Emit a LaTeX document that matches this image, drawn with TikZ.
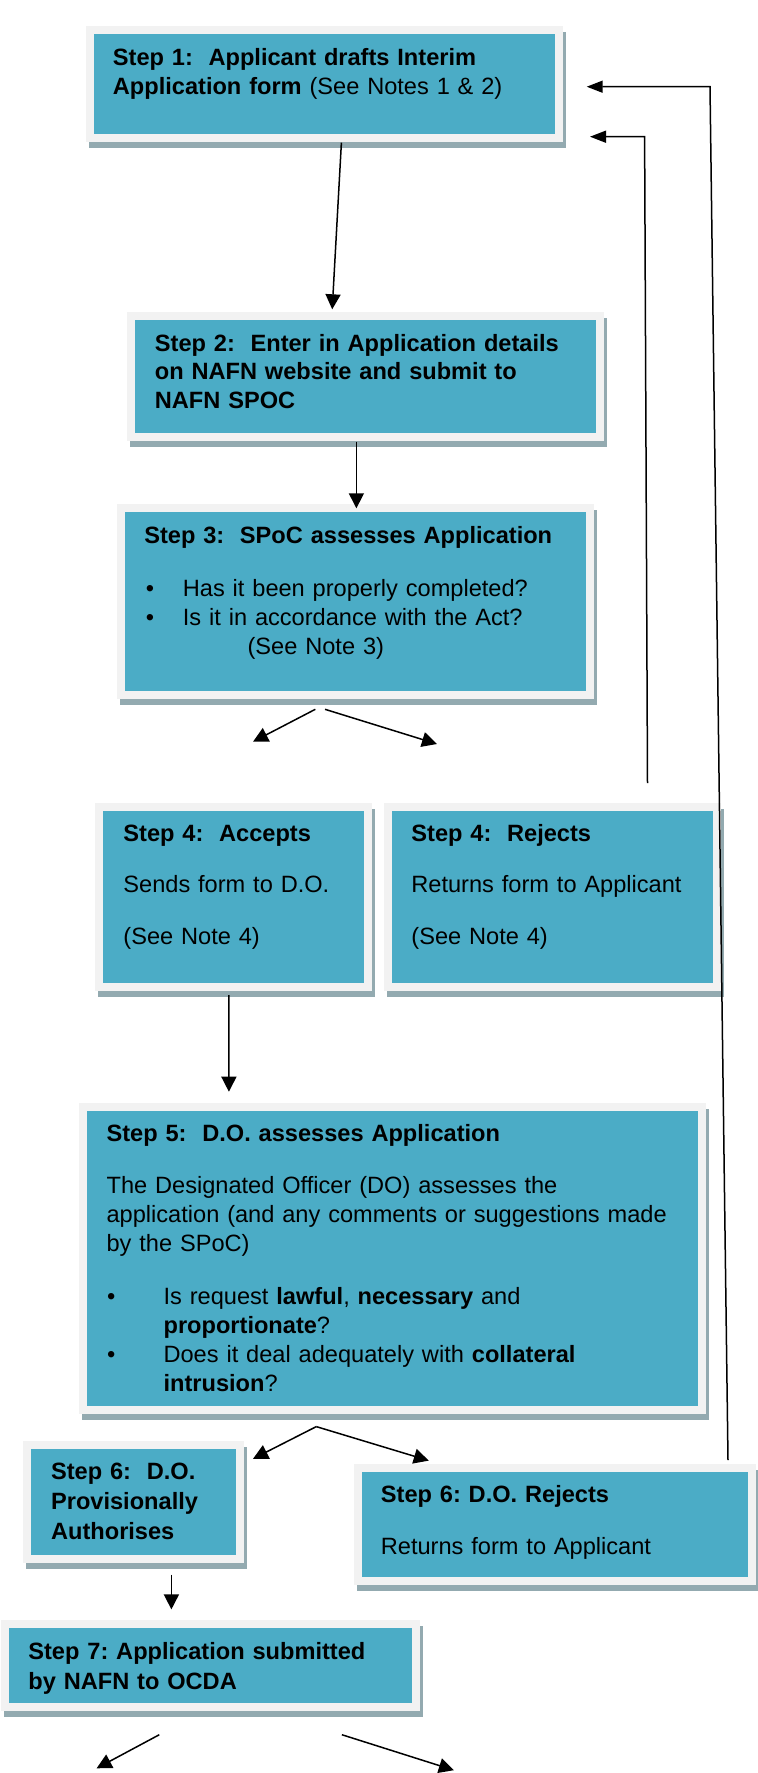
\documentclass[tikz,border=0pt]{standalone}
\usepackage{fontspec}
\setmainfont{Liberation Sans}
\usetikzlibrary{arrows.meta,shadows}
\frenchspacing

\definecolor{stepteal}{HTML}{4BACC6}
\definecolor{framegrey}{HTML}{F2F2F2}
\definecolor{shadowgrey}{HTML}{93AAB0}

\tikzset{
  stepbox/.style={draw=framegrey, line width=4pt, fill=stepteal, inner sep=0pt,
    drop shadow={shadow xshift=1.5pt, shadow yshift=-3pt, opacity=1,
      fill=shadowgrey, draw=shadowgrey, line width=4pt}},
  steptext/.style={inner sep=0pt, anchor=base west, align=left, text width=300pt,
    font=\fontsize{11.8pt}{14.5pt}\selectfont\frenchspacing},
  arr/.style={line width=0.75pt, -{Triangle[length=7.5pt,width=7.5pt]}},
  backarr/.style={line width=0.75pt, -{Triangle[length=8pt,width=6pt]}}
}

\begin{document}
\begin{tikzpicture}[x=0.5pt,y=-0.5pt]
        \useasboundingbox (0,0) rectangle (757,1773);

        % Step 1
        \node[stepbox, minimum width=234.5pt, minimum height=53.85pt] (s1) at (324,83.85) {};
        \node[steptext] (s1t) at (112.5,65)
          {\textbf{Step 1:\ \ Applicant drafts Interim}\\\textbf{Application form} (See Notes 1 \& 2)};

        % Step 2
        \node[stepbox, minimum width=234.3pt, minimum height=60.5pt] (s2) at (365.3,376.2) {};
        \node[steptext, font=\fontsize{11.8pt}{14.1pt}\selectfont\bfseries\frenchspacing] (s2t) at (154.5,351.7)
          {Step 2:\ \ Enter in Application details\\on NAFN website and submit to\\NAFN SPOC};

        % Step 3
        \node[stepbox, minimum width=234.35pt, minimum height=93.5pt] (s3) at (355.65,601.5) {};
        \node[steptext] (s3t) at (143.9,543.3)
          {\textbf{Step 3:\ \ SPoC assesses Application}\\[12.2pt]
           \makebox[19.3pt][l]{\hspace{0.8pt}\textbullet}Has it been properly completed?\\
           \makebox[19.3pt][l]{\hspace{0.8pt}\textbullet}Is it in accordance with the Act?\\
           \hspace*{51.65pt}(See Note 3)};

        % Step 4
        \node[stepbox, minimum width=134.6pt, minimum height=90pt] (s4a) at (233.7,896.7) {};
        \node[steptext] (s4at) at (123,841.7)
          {\textbf{Step 4:\ \ Accepts}\\[11pt]Sends form to D.O.\\[11.6pt](See Note 4)};
        \node[stepbox, minimum width=164.65pt, minimum height=90pt] (s4r) at (552.55,896.7) {};
        \node[steptext] (s4rt) at (411,841.7)
          {\textbf{Step 4:\ \ Rejects}\\[11pt]Returns form to Applicant\\[11.6pt](See Note 4)};

        % Step 5
        \node[stepbox, minimum width=309.65pt, minimum height=151.25pt] (s5) at (392.35,1258.55) {};
        \node[steptext] (s5t) at (106.2,1141.7)
          {\textbf{Step 5:\ \ D.O. assesses Application}\\[11.3pt]
           The Designated Officer (DO) assesses the\\
           application (and any comments or suggestions made\\
           by the SPoC)\\[12pt]
           \makebox[28.5pt][l]{\hspace{0.3pt}\textbullet}Is request \textbf{lawful}, \textbf{necessary} and\\
           \hspace*{28.5pt}\textbf{proportionate}?\\
           \makebox[28.5pt][l]{\hspace{0.3pt}\textbullet}Does it deal adequately with \textbf{collateral}\\
           \hspace*{28.5pt}\textbf{intrusion}?};

        % Step 6
        \node[stepbox, minimum width=106.55pt, minimum height=56.9pt] (s6a) at (133.25,1502.1) {};
        \node[steptext, font=\fontsize{11.8pt}{15pt}\selectfont\bfseries\frenchspacing] (s6at) at (50.7,1479.6)
          {Step 6:\ \ D.O.\\Provisionally\\Authorises};
        \node[stepbox, minimum width=196.85pt, minimum height=56.5pt] (s6r) at (554.85,1524.4) {};
        \node[steptext] (s6rt) at (380.5,1502.6)
          {\textbf{Step 6: D.O. Rejects}\\[11.5pt]Returns form to Applicant};

        % Step 7
        \node[stepbox, minimum width=205.3pt, minimum height=41.35pt] (s7) at (210.7,1665.65) {};
        \node[steptext, font=\fontsize{11.8pt}{15pt}\selectfont\bfseries\frenchspacing] (s7t) at (28,1659.8)
          {Step 7: Application submitted\\by NAFN to OCDA};

        % Free ends and bends
        \coordinate (c3l) at (253,741.7);
        \coordinate (c3r) at (437,744);
        \coordinate (c5) at (316.3,1426.6);
        \coordinate (c7l) at (96.6,1768.3);
        \coordinate (c7r) at (453.9,1770.2);
        \coordinate (r1) at (710,86.7);
        \coordinate (r2) at (644.6,136.7);

        % Main flow
        \draw[arr] ([shift={(17.4,1)}]s1.south) -- ([shift={(-33.1,-2.4)}]s2.north);
        \draw[arr] ([shift={(-8.9,1)}]s2.south) -- ([shift={(0.75,4.3)}]s3.north);
        \draw[arr] ([shift={(-40.35,10.3)}]s3.south) -- (c3l);
        \draw[arr] ([shift={(-30.65,10.3)}]s3.south) -- (c3r);
        \draw[arr] ([shift={(-4.8,4.3)}]s4a.south) -- ([shift={(-163.45,-11.6)}]s5.north);
        \draw[arr] (c5) -- ([shift={(9.2,17.6)}]s6a.north east);
        \draw[arr] (c5) -- ([shift={(-126.05,-3.3)}]s6r.north);
        \draw[arr] ([shift={(38.15,11.6)}]s6a.south) -- ([shift={(-39.3,-10.9)}]s7.north);
        \draw[arr] ([shift={(-51.4,23.7)}]s7.south) -- (c7l);
        \draw[arr] ([shift={(131.2,23.7)}]s7.south) -- (c7r);

        % Returns to applicant
        \draw[backarr] ([shift={(173.15,-3.9)}]s6r.north) -- (r1) -- ([shift={(24.2,2.85)}]s1.east);
        \draw[backarr] ([shift={(94.95,-19.7)}]s4r.north) -- (r2) -- ([shift={(27.5,52.85)}]s1.east);
\end{tikzpicture}
\end{document}
